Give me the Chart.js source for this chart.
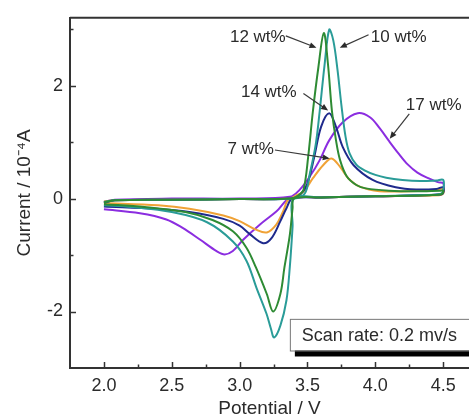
<!DOCTYPE html>
<html>
<head>
<meta charset="utf-8">
<script src="https://cdn.jsdelivr.net/npm/chart.js@4.4.1/dist/chart.umd.min.js"></script>
<style>
  body { margin: 0; background: #fff; }
  #wrap { width: 469px; height: 418px; }
</style>
</head>
<body>
<div id="wrap"><canvas id="cvChart"></canvas></div>
<script>
// tick labels
const xTickValues = [2.0, 2.5, 3.0, 3.5, 4.0, 4.5];
const yTickValues = [-2, 0, 2];

// 12 wt% (forward sweep 2.0 -> 4.5, then back to 2.0)
const potential12 = [2.0, 2.08, 2.5, 3.0, 3.38, 3.43, 3.47, 3.505, 3.54, 3.58, 3.62, 3.65, 3.68, 3.71, 3.74, 3.79, 3.86, 3.93, 4.1, 4.3, 4.48, 4.5,
  4.49, 4.4, 4.0, 3.6, 3.40, 3.39, 3.37, 3.33, 3.30, 3.247, 3.20, 3.12, 3.05, 2.95, 2.8, 2.6, 2.3, 2.0];
const current12 = [-0.07, -0.03, -0.02, -0.01, 0.0, 0.05, 0.15, 0.74, 1.55, 2.32, 2.93, 2.4, 1.55, 1.03, 0.68, 0.39, 0.24, 0.18, 0.14, 0.13, 0.14, 0.14,
  0.08, 0.06, 0.04, 0.02, 0.0, -0.17, -0.64, -1.22, -1.69, -2.0, -1.69, -1.22, -0.87, -0.58, -0.38, -0.24, -0.15, -0.1];

// 10 wt%
const potential10 = [2.0, 2.08, 2.5, 3.0, 3.40, 3.48, 3.517, 3.56, 3.59, 3.625, 3.66, 3.69, 3.72, 3.75, 3.78, 3.81, 3.86, 3.92, 4.0, 4.08, 4.2, 4.33, 4.45, 4.5,
  4.5, 4.48, 4.3, 4.0, 3.6, 3.40, 3.39, 3.37, 3.345, 3.30, 3.254, 3.23, 3.198, 3.124, 3.05, 2.95, 2.76, 2.5, 2.2, 2.0];
const current10 = [-0.06, -0.03, -0.02, -0.01, 0.0, 0.09, 0.44, 0.95, 1.55, 2.35, 2.99, 2.8, 2.3, 1.65, 1.1, 0.8, 0.6, 0.5, 0.42, 0.37, 0.33, 0.31, 0.32, 0.33,
  0.15, 0.08, 0.06, 0.04, 0.02, 0.0, -0.5, -1.2, -1.8, -2.25, -2.46, -2.3, -2.04, -1.58, -1.1, -0.76, -0.42, -0.24, -0.15, -0.12];

// 14 wt%
const potential14 = [2.0, 2.08, 2.5, 3.0, 3.38, 3.45, 3.50, 3.55, 3.60, 3.66, 3.71, 3.76, 3.84, 3.98, 4.15, 4.3, 4.45, 4.5,
  4.5, 4.48, 4.0, 3.6, 3.39, 3.345, 3.30, 3.235, 3.173, 3.075, 3.0, 2.88, 2.63, 2.39, 2.0];
const current14 = [-0.08, -0.03, -0.02, -0.01, 0.0, 0.08, 0.27, 0.74, 1.27, 1.51, 1.27, 0.91, 0.59, 0.33, 0.2, 0.16, 0.17, 0.2,
  0.1, 0.07, 0.04, 0.02, 0.0, -0.17, -0.40, -0.70, -0.79, -0.63, -0.48, -0.36, -0.24, -0.18, -0.14];

// 7 wt%
const potential7 = [2.0, 2.08, 2.5, 3.0, 3.37, 3.42, 3.47, 3.54, 3.615, 3.677, 3.74, 3.80, 3.885, 4.03, 4.25, 4.45, 4.5,
  4.5, 4.47, 4.0, 3.6, 3.37, 3.32, 3.27, 3.20, 3.12, 3.0, 2.88, 2.63, 2.4, 2.0];
const current7 = [-0.05, -0.03, -0.02, -0.01, 0.0, 0.06, 0.12, 0.36, 0.59, 0.71, 0.56, 0.36, 0.21, 0.13, 0.13, 0.15, 0.18,
  0.09, 0.06, 0.04, 0.02, 0.0, -0.23, -0.46, -0.60, -0.55, -0.40, -0.30, -0.18, -0.12, -0.08];

// 17 wt%
const potential17 = [2.0, 2.08, 2.5, 3.0, 3.37, 3.44, 3.517, 3.59, 3.66, 3.76, 3.87, 3.96, 4.03, 4.10, 4.17, 4.24, 4.31, 4.39, 4.46, 4.5,
  4.5, 4.48, 4.0, 3.6, 3.37, 3.27, 3.15, 3.026, 2.95, 2.89, 2.83, 2.71, 2.58, 2.46, 2.265, 2.0];
const current17 = [-0.06, -0.02, 0.0, 0.0, 0.03, 0.15, 0.39, 0.68, 1.03, 1.35, 1.51, 1.44, 1.25, 1.02, 0.8, 0.6, 0.46, 0.36, 0.29, 0.27,
  0.12, 0.07, 0.04, 0.02, 0.0, -0.23, -0.46, -0.73, -0.93, -0.99, -0.93, -0.73, -0.52, -0.37, -0.26, -0.19];

const seriesNames = ['12 wt%', '10 wt%', '14 wt%', '7 wt%', '17 wt%'];
const seriesX = [potential12, potential10, potential14, potential7, potential17];
const seriesY = [current12, current10, current14, current7, current17];
const seriesColors = ['#2e8b34', '#2a9c98', '#1f2a8c', '#f0a236', '#8b2de0'];

// curve labels: text centre, arrow tail, arrow tip (data units)
const noteText = ['12 wt%', '10 wt%', '14 wt%', '17 wt%', '7 wt%'];
const noteX = [3.134, 4.172, 3.215, 4.43, 3.082];
const noteY = [2.85, 2.85, 1.88, 1.65, 0.88];
const tailX = [3.34, 3.95, 3.47, 4.25, 3.26];
const tailY = [2.88, 2.90, 1.86, 1.50, 0.86];
const tipX = [3.566, 3.738, 3.652, 4.106, 3.664];
const tipY = [2.67, 2.67, 1.56, 1.06, 0.71];

const fontFamily = '"Liberation Sans", Arial, sans-serif';
const axisColor = '#333333';
const textColor = '#2b2b2b';

const datasets = seriesNames.map((name, i) => ({
  label: name,
  data: seriesX[i].map((v, j) => ({ x: v, y: seriesY[i][j] })),
  borderColor: seriesColors[i],
  backgroundColor: seriesColors[i],
  borderWidth: 2,
  showLine: true,
  fill: false,
  tension: 0.35,
  pointRadius: 0
}));

function arrow(ctx, x1, y1, x2, y2) {
  const ang = Math.atan2(y2 - y1, x2 - x1);
  ctx.beginPath();
  ctx.moveTo(x1, y1);
  ctx.lineTo(x2 - 4 * Math.cos(ang), y2 - 4 * Math.sin(ang));
  ctx.stroke();
  ctx.beginPath();
  ctx.moveTo(x2, y2);
  ctx.lineTo(x2 - 7 * Math.cos(ang) + 3 * Math.sin(ang), y2 - 7 * Math.sin(ang) - 3 * Math.cos(ang));
  ctx.lineTo(x2 - 7 * Math.cos(ang) - 3 * Math.sin(ang), y2 - 7 * Math.sin(ang) + 3 * Math.cos(ang));
  ctx.closePath();
  ctx.fill();
}

const extras = {
  id: 'extras',
  afterDatasetsDraw(chart) {
    const { ctx, chartArea: a, scales: { x, y } } = chart;
    ctx.save();
    ctx.strokeStyle = axisColor;
    ctx.fillStyle = axisColor;

    // top frame line
    ctx.lineWidth = 2;
    ctx.beginPath();
    ctx.moveTo(a.left, a.top);
    ctx.lineTo(a.right, a.top);
    ctx.stroke();

    // inward ticks
    ctx.lineWidth = 1.5;
    xTickValues.forEach(v => {
      const px = Math.round(x.getPixelForValue(v)) + 0.5;
      ctx.beginPath(); ctx.moveTo(px, a.bottom); ctx.lineTo(px, a.bottom - 6); ctx.stroke();
      const pm = Math.round(x.getPixelForValue(v + 0.25)) + 0.5;
      if (v + 0.25 < x.max) {
        ctx.beginPath(); ctx.moveTo(pm, a.bottom); ctx.lineTo(pm, a.bottom - 3.5); ctx.stroke();
      }
    });
    yTickValues.forEach(v => {
      const py = Math.round(y.getPixelForValue(v)) + 0.5;
      ctx.beginPath(); ctx.moveTo(a.left, py); ctx.lineTo(a.left + 6, py); ctx.stroke();
      const pm = Math.round(y.getPixelForValue(v + 1)) + 0.5;
      ctx.beginPath(); ctx.moveTo(a.left, pm); ctx.lineTo(a.left + 3.5, pm); ctx.stroke();
    });

    // curve labels with arrows
    ctx.fillStyle = textColor;
    ctx.strokeStyle = '#3a3a3a';
    ctx.lineWidth = 1.2;
    ctx.font = '17px ' + fontFamily;
    ctx.textAlign = 'center';
    ctx.textBaseline = 'middle';
    noteText.forEach((t, i) => {
      ctx.fillText(t, x.getPixelForValue(noteX[i]), y.getPixelForValue(noteY[i]));
      arrow(ctx, x.getPixelForValue(tailX[i]), y.getPixelForValue(tailY[i]),
        x.getPixelForValue(tipX[i]), y.getPixelForValue(tipY[i]));
    });

    // scan rate box with shadow
    const bx = x.getPixelForValue(3.37);
    const by = y.getPixelForValue(-2.13);
    const bb = y.getPixelForValue(-2.69);
    ctx.fillStyle = '#000';
    ctx.fillRect(bx + 5, by + 6, a.right - bx, bb - by);
    ctx.fillStyle = '#fff';
    ctx.fillRect(bx, by, a.right - bx + 5, bb - by);
    ctx.strokeStyle = '#777';
    ctx.lineWidth = 1;
    ctx.strokeRect(bx + 0.5, by + 0.5, a.right - bx + 5, bb - by);
    ctx.fillStyle = textColor;
    ctx.font = '18px ' + fontFamily;
    ctx.textAlign = 'left';
    ctx.fillText('Scan rate: 0.2 mv/s', bx + 12, (by + bb) / 2 + 1);
    ctx.restore();
  }
};

new Chart(document.getElementById('cvChart').getContext('2d'), {
  type: 'scatter',
  data: { datasets: datasets },
  options: {
    responsive: true,
    maintainAspectRatio: false,
    animation: false,
    layout: { padding: { top: 15, right: 0, left: 0, bottom: 0 } },
    plugins: {
      legend: { display: false },
      tooltip: { enabled: false }
    },
    scales: {
      x: {
        type: 'linear',
        min: 1.75,
        max: 4.69,
        afterBuildTicks: s => { s.ticks = xTickValues.map(v => ({ value: v })); },
        afterFit: s => { s.height = 50; },
        grid: { display: false, drawTicks: false },
        border: { display: true, color: axisColor, width: 2 },
        ticks: {
          color: textColor,
          padding: 7,
          maxRotation: 0,
          font: { family: fontFamily, size: 18 },
          callback: v => Number(v).toFixed(1)
        },
        title: {
          display: true,
          text: 'Potential / V',
          color: textColor,
          font: { family: fontFamily, size: 19, lineHeight: 1 },
          padding: { top: 0, bottom: 0 }
        }
      },
      y: {
        type: 'linear',
        min: -3,
        max: 3.2,
        afterBuildTicks: s => { s.ticks = yTickValues.map(v => ({ value: v })); },
        afterFit: s => { s.width = 70; },
        grid: { display: false, drawTicks: false },
        border: { display: true, color: axisColor, width: 2 },
        ticks: {
          color: textColor,
          padding: 7,
          font: { family: fontFamily, size: 18 },
          callback: v => String(v)
        },
        title: {
          display: true,
          text: 'Current / 10⁻⁴A',
          color: textColor,
          font: { family: fontFamily, size: 19, lineHeight: 1 },
          padding: { top: 15, bottom: 0 }
        }
      }
    }
  },
  plugins: [extras]
});
</script>
</body>
</html>
